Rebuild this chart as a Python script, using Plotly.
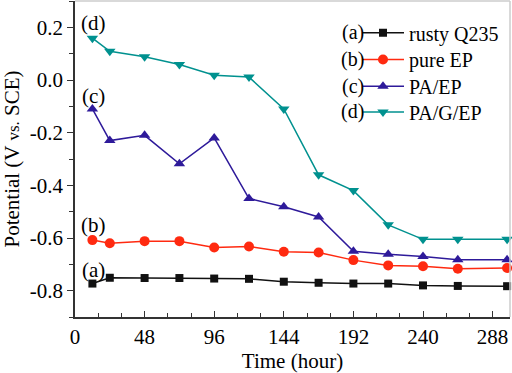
import plotly.graph_objects as go

hours = [12, 24, 48, 72, 96, 120, 144, 168, 192, 216, 240, 264, 298]
rusty_q235 = [-0.773, -0.751, -0.752, -0.752, -0.754, -0.755, -0.766, -0.770, -0.773, -0.773, -0.780, -0.782, -0.783]
pure_ep = [-0.608, -0.620, -0.612, -0.612, -0.636, -0.632, -0.652, -0.655, -0.684, -0.704, -0.707, -0.717, -0.714]
pa_ep = [-0.110, -0.230, -0.210, -0.318, -0.220, -0.450, -0.481, -0.520, -0.650, -0.662, -0.670, -0.683, -0.683]
pa_g_ep = [0.159, 0.109, 0.088, 0.059, 0.018, 0.011, -0.110, -0.360, -0.420, -0.550, -0.605, -0.605, -0.605]

series = [
    ("rusty Q235", rusty_q235, "#111111", "square", 8, "(a)"),
    ("pure EP", pure_ep, "#ff2a10", "circle", 10, "(b)"),
    ("PA/EP", pa_ep, "#2e1a9a", "triangle-up", 10, "(c)"),
    ("PA/G/EP", pa_g_ep, "#00918f", "triangle-down", 10, "(d)"),
]

FONT = "Liberation Serif"
W, H = 435.0, 319.0
leg_rows = [33, 60, 87, 113]
leg_names = ["legend", "legend2", "legend3", "legend4"]

fig = go.Figure()
for (name, vals, color, sym, size, tag), lg in zip(series, leg_names):
    fig.add_trace(go.Scatter(
        x=hours, y=vals, name=name, mode="lines+markers",
        line=dict(color=color, width=1.5),
        marker=dict(symbol=sym, size=size, color=color),
        cliponaxis=False, legend=lg,
    ))

# in-plot labels
label_pos = [("(a)", 13, -0.723), ("(b)", 13, -0.55), ("(c)", 13, -0.061), ("(d)", 13, 0.217)]
for t, x, y in label_pos:
    fig.add_annotation(x=x, y=y, text=t, showarrow=False, xref="x", yref="y",
                       font=dict(family=FONT, size=21, color="black"))

# legend prefixes
for (name, vals, color, sym, size, tag), py in zip(series, leg_rows):
    fig.add_annotation(x=(366 - 75) / W, y=(320 - py) / H, xref="paper", yref="paper",
                       text=tag, showarrow=False, xanchor="right", yanchor="middle",
                       font=dict(family=FONT, size=20, color="black"))

fig.add_shape(type="line", xref="paper", yref="paper", x0=0, x1=1, y0=1, y1=1,
              line=dict(color="#cccccc", width=1.5))
fig.add_shape(type="line", xref="paper", yref="paper", x0=1, x1=1, y0=0, y1=1,
              line=dict(color="#cccccc", width=1.5))

legend_common = dict(xanchor="left", yanchor="middle", bgcolor="rgba(0,0,0,0)",
                     font=dict(family=FONT, size=20, color="black"), itemwidth=42,
                     borderwidth=0)
legends = {}
for lg, py in zip(leg_names, leg_rows):
    legends[lg] = dict(x=(357 - 75) / W, y=(320 - py) / H, **legend_common)

fig.update_layout(
    width=512, height=373,
    margin=dict(l=75, r=2, t=1, b=53),
    paper_bgcolor="white", plot_bgcolor="white",
    font=dict(family=FONT, size=21, color="black"),
    showlegend=True,
    **legends,
    xaxis=dict(range=[0, 300], tickvals=[0, 48, 96, 144, 192, 240, 288],
               tickfont=dict(family=FONT, size=21, color="black"),
               showgrid=False, zeroline=False, showline=True, linecolor="#333333", linewidth=1.5,
               ticks="inside", ticklen=6, tickcolor="#333333",
               minor=dict(dtick=16, tick0=0, ticks="inside", ticklen=4, tickcolor="#333333"),
               title=dict(text="Time (hour)", font=dict(family=FONT, size=21, color="black"), standoff=8)),
    yaxis=dict(range=[-0.9, 0.3], tickvals=[-0.8, -0.6, -0.4, -0.2, 0.0, 0.2],
               ticktext=["-0.8", "-0.6", "-0.4", "-0.2", "0.0", "0.2"],
               tickfont=dict(family=FONT, size=21, color="black"),
               showgrid=False, zeroline=False, showline=True, linecolor="#333333", linewidth=1.5,
               ticks="outside", ticklen=6, tickcolor="#333333",
               minor=dict(dtick=0.1, tick0=0, ticks="outside", ticklen=4, tickcolor="#333333"),
               title=dict(text="Potential (V <span style='font-size:17px'>vs.</span> SCE)",
                          font=dict(family=FONT, size=21, color="black"), standoff=6)),
)

fig.write_html("out.html", config={"displayModeBar": False},
               post_script="document.body.style.margin='0';document.body.style.padding='0';")
